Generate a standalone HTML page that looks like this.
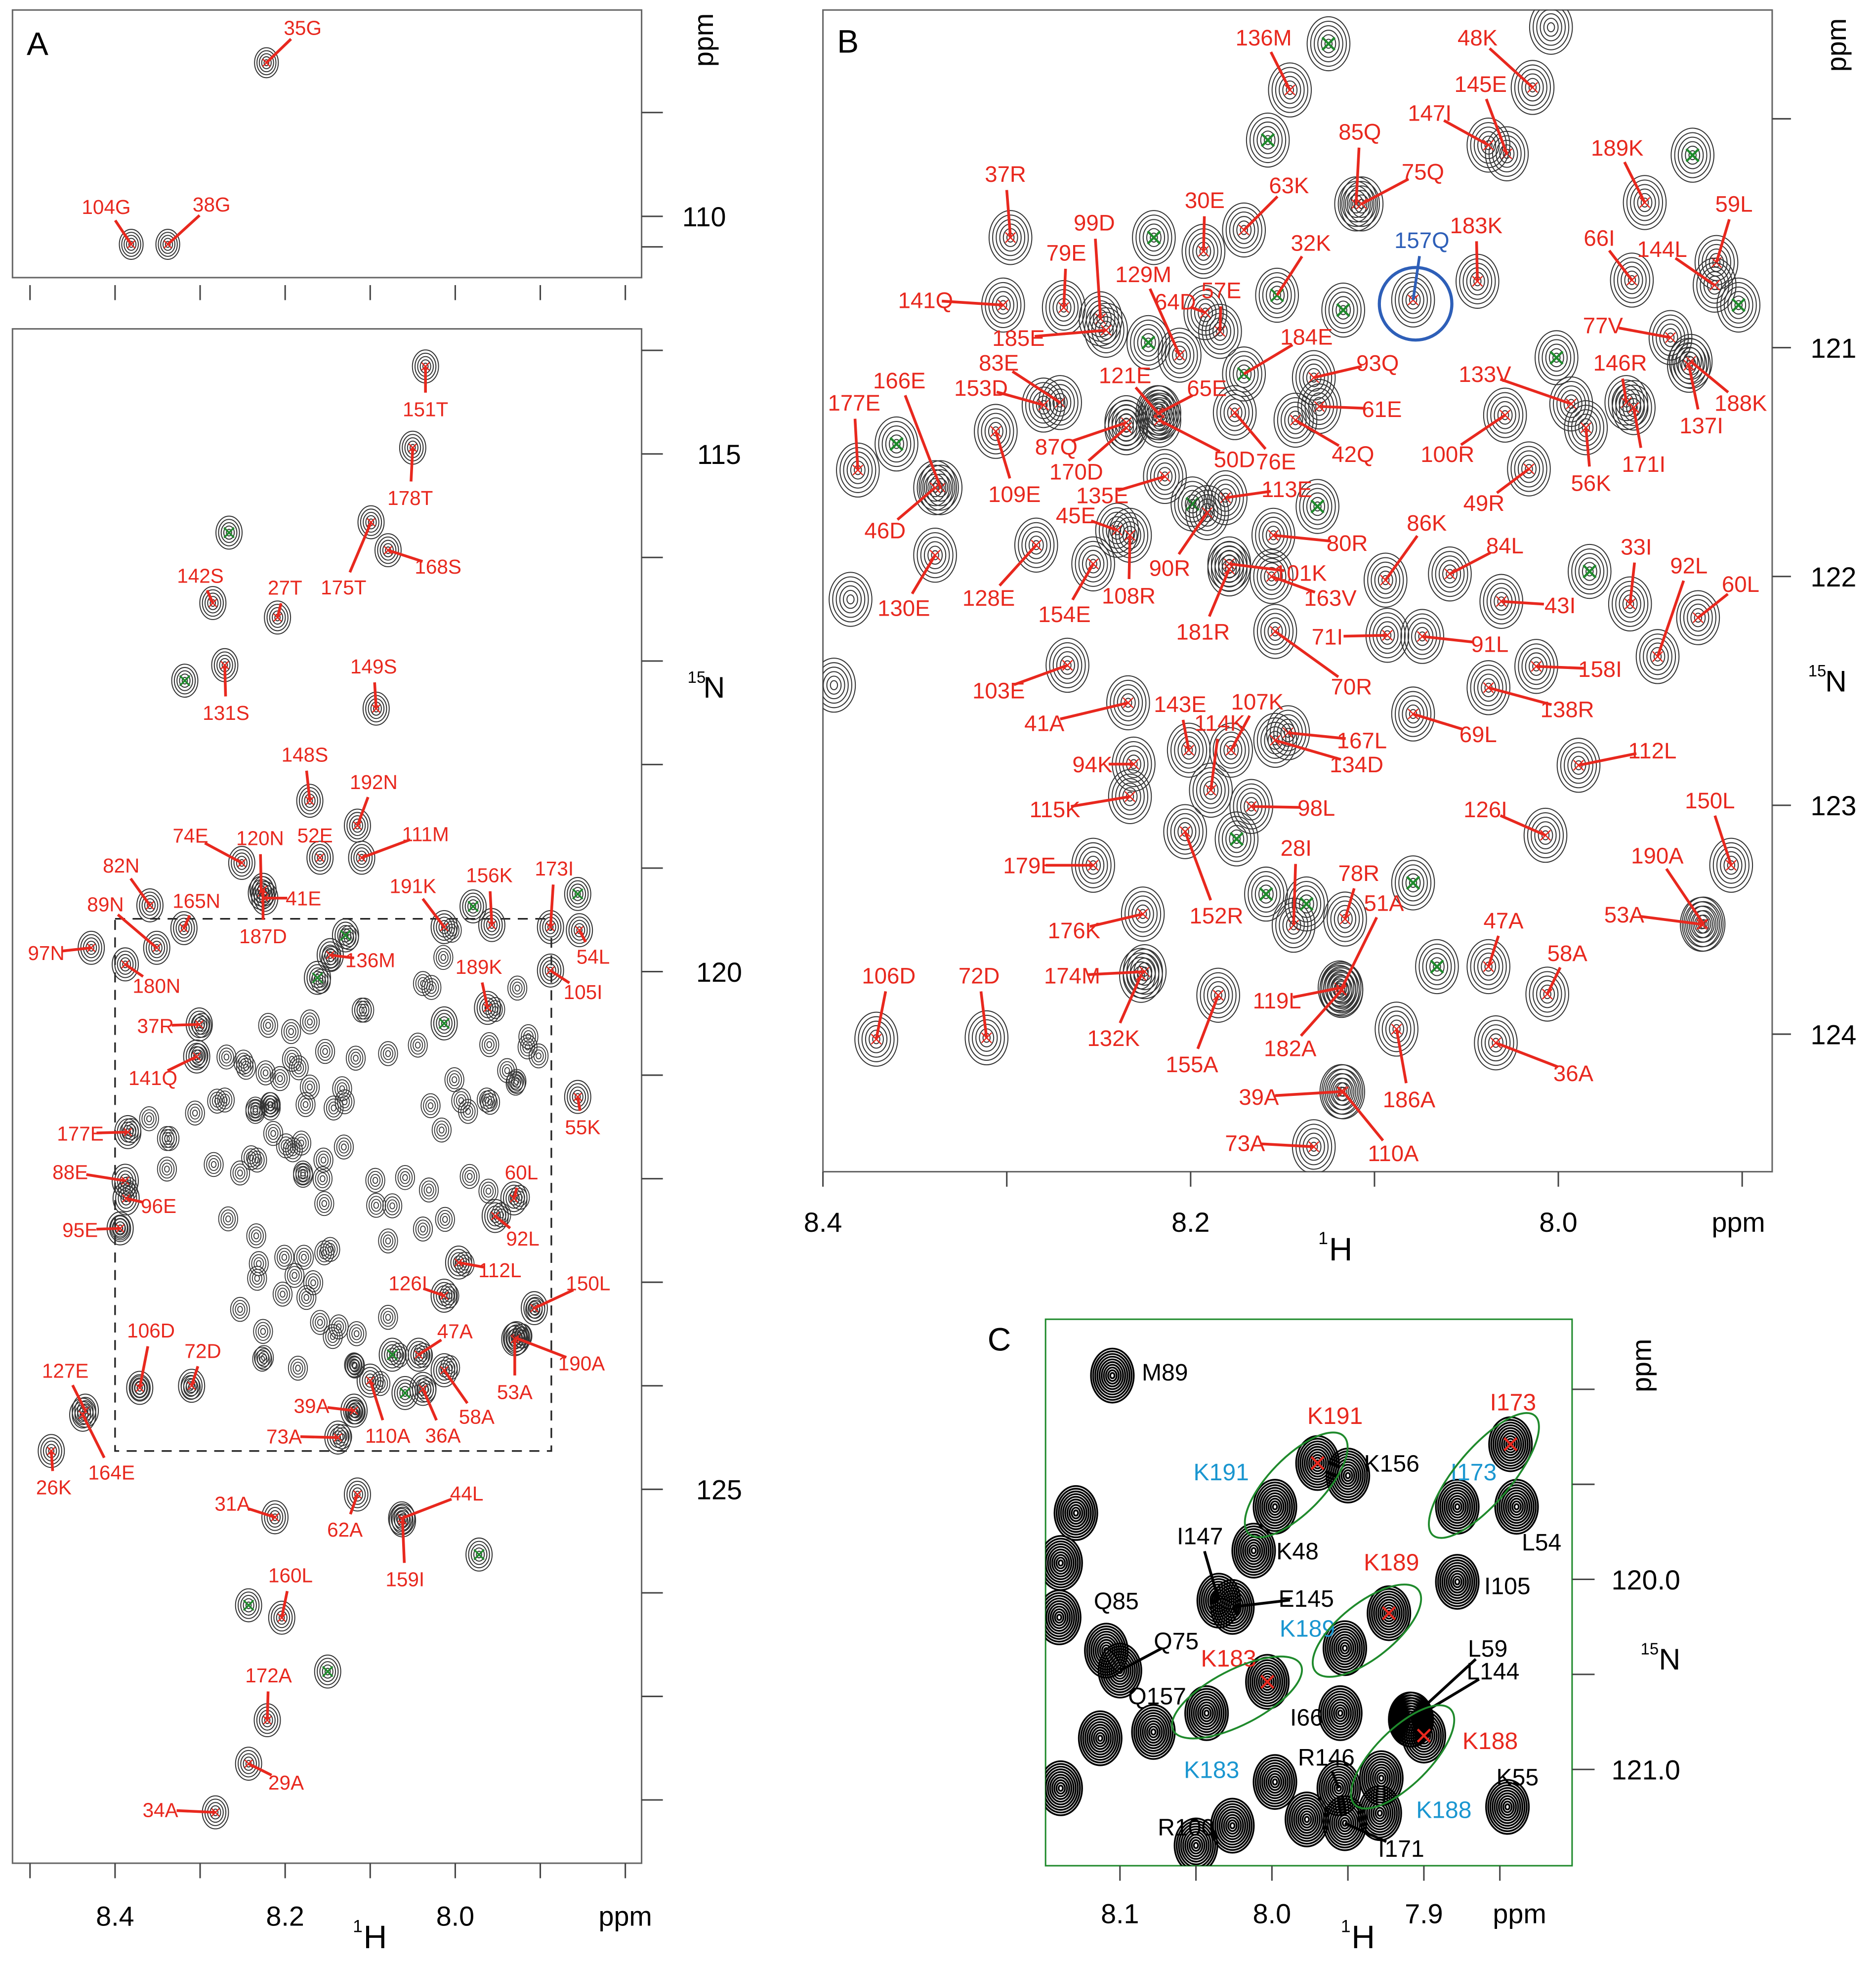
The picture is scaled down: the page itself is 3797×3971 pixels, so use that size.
<!DOCTYPE html>
<html><head><meta charset="utf-8">
<style>
html,body{margin:0;padding:0;background:#fff;}
svg{display:block;font-family:"Liberation Sans",Arial,sans-serif;}
</style></head>
<body>
<svg id="fig" xmlns="http://www.w3.org/2000/svg" width="3797" height="3971" viewBox="0 0 1500 1569" preserveAspectRatio="none">
<defs>
<clipPath id="clipAt"><rect x="10" y="8" width="503" height="214"/></clipPath>
<clipPath id="clipA"><rect x="10" y="263" width="503" height="1227"/></clipPath>
<clipPath id="clipB"><rect x="658" y="8" width="759" height="929"/></clipPath>
<clipPath id="clipC"><rect x="836" y="1055" width="421" height="437"/></clipPath>
</defs>
<rect x="0" y="0" width="1500" height="1569" fill="#fff"/>
<g id="axes"></g>
<g id="gAt" clip-path="url(#clipAt)"></g>
<g id="gA" clip-path="url(#clipA)"></g>
<g id="gB" clip-path="url(#clipB)"></g>
<g id="gC" clip-path="url(#clipC)"></g>
<g id="labels"></g>
</svg>
<script>
// ---------- DATA ----------
const atNames=['35G','104G','38G'];
const atH=[8.222,8.381,8.338];
const atN=[108.52,110.27,110.27];
const atOff=[[29,-28],[-20,-30],[35,-32]];
const aNames=['151T','178T','168S','175T','','142S','27T','','131S','149S','148S','192N','111M','52E','120N','74E','41E','187D','82N','89N','165N','97N','180N','191K','','156K','173I','','54L','105I','136M','','','189K','','37R','141Q','177E','55K','88E','96E','95E','60L','92L','112L','126I','150L','190A','53A','47A','','58A','36A','','110A','39A','73A','106D','72D','127E','164E','26K','31A','62A','44L','159I','','160L','','172A','','29A','34A'];
const aH=[8.035,8.05,8.079,8.099,8.266,8.285,8.209,8.318,8.271,8.093,8.171,8.115,8.11,8.159,8.228,8.251,8.224,8.226,8.359,8.351,8.319,8.428,8.388,8.013,7.979,7.957,7.888,7.856,7.854,7.888,8.147,8.129,8.162,7.962,8.013,8.301,8.304,8.385,7.856,8.388,8.387,8.394,7.931,7.953,7.996,8.013,7.907,7.928,7.93,8.043,8.074,8.013,8.038,8.059,8.10,8.119,8.138,8.371,8.31,8.435,8.438,8.475,8.212,8.115,8.063,8.062,7.972,8.204,8.243,8.221,8.15,8.243,8.282];
const aN=[114.155,114.94,115.93,115.66,115.76,116.44,116.58,117.19,117.04,117.46,118.35,118.59,118.90,118.90,119.24,118.95,119.29,119.21,119.36,119.77,119.58,119.77,119.93,119.57,119.37,119.55,119.57,119.25,119.60,119.99,119.84,119.65,120.06,120.35,120.50,120.51,120.82,121.55,121.21,122.02,122.19,122.48,122.19,122.36,122.81,123.13,123.25,123.54,123.55,123.70,123.70,123.85,124.03,124.07,123.95,124.24,124.50,124.02,124.00,124.24,124.28,124.63,125.27,125.05,125.28,125.30,125.63,126.24,126.12,127.23,126.76,127.65,128.12];
const aOff=[[0,34],[-2,40],[40,13],[-22,52],[0,0],[-10,-22],[6,-24],[0,0],[1,38],[-2,-34],[-4,-37],[13,-35],[51,-19],[-4,-18],[-1,-44],[-41,-22],[31,0],[0,37],[-23,-32],[-41,-35],[10,-22],[-36,4],[25,17],[-25,-33],[0,0],[-2,-40],[3,-47],[0,0],[11,21],[26,17],[32,4],[0,0],[0,0],[-7,-33],[0,0],[-35,1],[-35,17],[-38,1],[4,24],[-44,-7],[26,6],[-32,1],[6,-21],[22,18],[33,6],[-29,-10],[43,-20],[52,20],[0,42],[29,-19],[0,0],[26,37],[16,37],[0,0],[14,44],[-34,-4],[-43,-1],[9,-46],[9,-28],[-16,-32],[23,46],[2,29],[-34,-11],[-10,28],[52,-20],[2,47],[0,0],[7,-34],[0,0],[1,-36],[0,0],[30,15],[-44,-2]];
const bNames=['136M','48K','145E','147I','','','85Q','75Q','189K','','37R','63K','30E','157Q','183K','66I','59L','144L','','99D','79E','32K','','129M','57E','64D','141Q','','185E','184E','','77V','83E','93Q','146R','','188K','153D','121E','65E','133V','137I','166E','177E','61E','87Q','170D','50D','76E','42Q','109E','100R','56K','171I','','46D','49R','135E','113E','45E','','','80R','90R','86K','84L','33I','92L','60L','','128E','130E','108R','154E','101K','163V','43I','181R','71I','91L','158I','103E','70R','138R','41A','143E','107K','114K','167L','134D','69L','112L','94K','115K','98L','126I','150L','179E','152R','28I','78R','190A','53A','','','','','176K','51A','47A','58A','','106D','72D','174M','119L','132K','155A','182A','186A','36A','39A','110A','73A','-','-','-'];
const bH=[8.146,8.014,8.028,8.038,8.125,8.158,8.110,8.107,7.953,7.927,8.298,8.171,8.193,8.079,8.044,7.960,7.914,7.915,7.902,8.249,8.269,8.153,8.220,8.206,8.184,8.192,8.302,8.117,8.246,8.171,8.223,7.939,8.271,8.133,7.963,8.001,7.928,8.280,8.218,8.217,7.993,7.929,8.336,8.381,8.130,8.235,8.235,8.217,8.176,8.143,8.306,8.029,7.985,7.959,8.360,8.339,8.016,8.214,8.181,8.240,8.199,8.131,8.155,8.191,8.094,8.059,7.961,7.946,7.924,7.983,8.284,8.339,8.233,8.253,8.179,8.156,8.031,8.179,8.093,8.074,8.012,8.267,8.154,8.038,8.234,8.201,8.178,8.189,8.147,8.154,8.079,7.989,8.231,8.233,8.167,8.007,7.906,8.253,8.203,8.144,8.116,7.921,7.922,8.175,8.159,8.137,8.079,8.226,8.118,8.038,8.006,8.066,8.371,8.311,8.225,8.119,8.227,8.185,8.118,8.088,8.034,8.118,8.117,8.133,8.385,8.394,8.004];
const bN=[119.874,119.863,120.153,120.115,119.672,120.093,120.372,120.372,120.366,120.159,120.519,120.486,120.579,120.792,120.71,120.705,120.628,120.727,120.814,120.874,120.825,120.771,120.519,121.033,120.929,120.847,120.814,120.836,120.924,121.115,120.978,120.956,121.24,121.131,121.24,121.044,121.06,121.251,121.284,121.285,121.246,121.077,121.612,121.535,121.257,121.328,121.35,121.317,121.284,121.317,121.366,121.295,121.35,121.262,121.421,121.612,121.53,121.563,121.656,121.798,121.683,121.694,121.82,121.721,122.016,121.989,122.12,122.35,122.18,121.978,121.863,121.907,121.82,121.945,121.945,122.0,122.109,121.967,122.257,122.262,122.393,122.388,122.24,122.486,122.552,122.759,122.759,122.934,122.683,122.716,122.601,122.825,122.82,122.962,123.005,123.131,123.262,123.262,123.115,123.524,123.497,123.519,123.52,123.147,123.388,123.431,123.339,123.475,123.803,123.705,123.825,123.705,124.022,124.016,123.727,123.798,123.743,123.83,123.809,123.978,124.038,124.251,124.252,124.492,122.10,122.475,119.60];
const bOff=[[-21,-42],[-44,-40],[-21,-56],[-47,-26],[0,0],[0,0],[3,-58],[49,-26],[-22,-44],[0,0],[-4,-51],[36,-36],[1,-41],[7,-48],[-1,-45],[-26,-34],[14,-47],[-42,-29],[0,0],[-5,-77],[2,-44],[27,-42],[0,0],[-29,-65],[1,-33],[-24,-9],[-62,-4],[0,0],[-70,6],[50,-30],[0,0],[-54,-10],[-49,-32],[51,-12],[-5,-32],[0,0],[40,33],[-50,-14],[-26,-30],[38,-20],[-69,-24],[10,48],[-33,-86],[-3,-54],[50,2],[-56,19],[-40,35],[60,31],[33,39],[46,27],[15,50],[-46,31],[4,44],[8,45],[0,0],[-40,34],[-36,27],[-50,15],[49,-7],[-33,-12],[0,0],[0,0],[59,6],[-30,44],[33,-46],[44,-23],[5,-46],[25,-73],[34,-27],[0,0],[-38,42],[-25,42],[-1,48],[-23,40],[57,7],[47,17],[47,3],[-21,50],[-48,1],[54,6],[51,2],[-55,20],[61,44],[63,17],[-67,16],[-7,-37],[21,-39],[7,-54],[59,6],[65,19],[52,16],[59,-12],[-33,0],[-60,10],[52,1],[-48,-21],[-17,-52],[-51,0],[25,67],[2,-62],[11,-37],[-37,-55],[-62,-8],[0,0],[0,0],[0,0],[0,0],[-55,13],[34,-69],[12,-37],[16,-33],[0,0],[10,-51],[-6,-50],[-58,3],[-50,10],[-22,50],[-21,55],[-41,46],[10,56],[62,24],[-66,4],[40,49],[-55,-3],[0,0],[0,0],[0,0]];
const bGreenAlso=['32K','184E'];
const cNames=['M89','K191','K156','K191','I173','I173','L54','I147','K48','K189','K189','I105','E145','Q85','Q75','K183','K183','Q157','I66','L59','L144','K188','K188','R146','K55','R100','I171','','','','','','','','',''];
const cH=[8.105,7.970,7.950,7.998,7.843,7.878,7.839,8.035,8.012,7.923,7.952,7.878,8.026,8.109,8.100,8.003,8.043,8.078,7.955,7.909,7.908,7.900,7.928,7.956,7.845,8.026,7.952,8.129,8.139,8.139,8.113,7.998,7.977,7.929,8.050,8.140];
const cN=[118.928,119.388,119.454,119.618,119.289,119.618,119.618,120.112,119.849,120.178,120.362,120.013,120.145,120.375,120.48,120.539,120.704,120.803,120.704,120.737,120.738,120.822,121.046,121.099,121.197,121.296,121.283,119.651,119.914,121.099,120.836,121.066,121.263,121.23,121.40,120.20];
const cCol=['k','r','k','b','r','b','k','k','k','r','b','k','k','k','k','r','b','k','k','k','k','r','b','k','k','k','k','','','','','','','','',''];
const cOff=[[42,-3],[14,-38],[35,-10],[-43,-28],[2,-34],[13,-28],[20,28],[-15,-52],[35,0],[2,-41],[-30,-16],[40,3],[59,-7],[8,-40],[45,-24],[-31,-19],[4,45],[3,-29],[-27,3],[62,-57],[65,-39],[53,4],[50,25],[-10,-25],[8,-24],[-37,1],[45,20],[0,0],[0,0],[0,0],[0,0],[0,0],[0,0],[0,0],[0,0],[0,0]];
const cPairs=[[1,3],[4,5],[9,10],[15,16],[21,22]];
const aXTicks=[8.5,8.4,8.3,8.2,8.1,8.0,7.9,7.8];
const aXLabels=['8.4','8.2','8.0'];
const aYTicks=[113,114,115,116,117,118,119,120,121,122,123,124,125,126,127,128];
const aYLabels=['115','120','125'];
const atYTicks=[109,110];
const bXTicks=[8.4,8.3,8.2,8.1,8.0,7.9];
const bXLabels=['8.4','8.2','8.0'];
const bYTicks=[120,121,122,123,124];
const bYLabels=['121','122','123','124'];
const cXTicks=[8.1,8.05,8.0,7.95,7.9,7.85];
const cXLabels=['8.1','8.0','7.9'];
const cYTicks=[119.0,119.5,120.0,120.5,121.0];
const cYLabels=['120.0','121.0'];

const xA=h=>92+(8.4-h)*680, yA=n=>777+(n-120)*82.8, yAt=n=>173+(n-110)*83;
const xB=h=>658+(8.4-h)*1470, yB=n=>278+(n-121)*183;
const xC=h=>1017+(8.0-h)*1215, yC=n=>1263+(n-120)*152;

const NS='http://www.w3.org/2000/svg';
function mk(tag,attrs,parent){const e=document.createElementNS(NS,tag);for(const k in attrs)e.setAttribute(k,attrs[k]);parent.appendChild(e);return e;}
const RED='#e8281e', GREEN='#1f8a2c', BLUEB='#2e5fb8', BLUEC='#1a96d0';

function contour(g,x,y,s,n,sw,col){
  const grp=mk('g',{},g);
  
  
  for(let i=1;i<=n;i++){const r=s*i/n;mk('ellipse',{cx:x,cy:y,rx:r*0.95,ry:r*1.2,fill:'none',stroke:col,'stroke-width':sw},grp);}
  return grp;
}
function cross(g,x,y,sz,col,sw){
  const c=mk('path',{d:`M${x-sz},${y-sz}L${x+sz},${y+sz}M${x-sz},${y+sz}L${x+sz},${y-sz}`,stroke:col,'stroke-width':sw,fill:'none'},g);
  
  
}
function label(g,px,py,off,txt,col,fs,line){
  const lx=px+off[0], ly=py+off[1];
  if(line){const dx=lx-px,dy=ly-py,d=Math.hypot(dx,dy);
    if(d>20){const t=(d-13)/d;const l=mk('line',{x1:px,y1:py,x2:px+dx*t,y2:py+dy*t,stroke:line,'stroke-width':2.2},g);
      
      }}
  const t=mk('text',{x:lx,y:ly+fs*0.36,'font-size':fs,fill:col,'text-anchor':'middle'},g);
  t.textContent=txt;
  
  
}

const gAt=document.getElementById('gAt'),gA=document.getElementById('gA'),gB=document.getElementById('gB'),gC=document.getElementById('gC'),gL=document.getElementById('labels'),ax=document.getElementById('axes');

function frame(x,y,w,h,col,name){const r=mk('rect',{x,y,width:w,height:h,fill:'none',stroke:col,'stroke-width':1.2},ax);}
frame(10,8,503,214,'#666','panel-a-top-frame');
frame(10,263,503,1227,'#666','panel-a-frame');
frame(658,8,759,929,'#666','panel-b-frame');
frame(836,1055,421,437,GREEN,'panel-c-frame');
function txt(x,y,s,fs,anchor,col,name,extra){const t=mk('text',Object.assign({x,y,'font-size':fs,'text-anchor':anchor||'middle',fill:col||'#000'},extra||{}),ax);t.textContent=s;return t;}
aXTicks.forEach(h=>{mk('line',{x1:xA(h),y1:1490,x2:xA(h),y2:1502,stroke:'#444','stroke-width':1.2},ax);mk('line',{x1:xA(h),y1:228,x2:xA(h),y2:240,stroke:'#444','stroke-width':1.2},ax);});
aXLabels.forEach(s=>txt(xA(+s),1540,s,22,'middle','#000','x-tick-label'));
txt(500,1540,'ppm',22,'middle','#000','x-unit-label');
aYTicks.forEach(n=>mk('line',{x1:513,y1:yA(n),x2:530,y2:yA(n),stroke:'#444','stroke-width':1.2},ax));
aYLabels.forEach(s=>txt(575,yA(+s)+8,s,22,'middle','#000','y-tick-label'));
atYTicks.forEach(n=>mk('line',{x1:513,y1:yAt(n),x2:530,y2:yAt(n),stroke:'#444','stroke-width':1.2},ax));
txt(563,181,'110',22,'middle','#000','y-tick-label');
txt(0,0,'ppm',22,'middle','#000','y-unit-label',{transform:'translate(570,32) rotate(-90)'});
txt(571,558,'N',24,'middle','#000','y-axis-title');
txt(557,546,'15',13,'middle','#000','y-axis-title-sup');
txt(300,1558,'H',26,'middle','#000','x-axis-title');txt(286,1545,'1',14,'middle','#000','x-axis-title-sup');
txt(30,44,'A',26,'middle','#000','panel-label-a');
const db=mk('rect',{x:xA(8.4),y:yA(119.49),width:xA(7.887)-xA(8.4),height:yA(124.63)-yA(119.49),fill:'none',stroke:'#222','stroke-width':1.3,'stroke-dasharray':'8,6'},ax);

bXTicks.forEach(h=>mk('line',{x1:xB(h),y1:937,x2:xB(h),y2:949,stroke:'#444','stroke-width':1.2},ax));
bXLabels.forEach(s=>txt(xB(+s),985,s,22,'middle','#000','x-tick-label'));
txt(1390,985,'ppm',22,'middle','#000','x-unit-label');
bYTicks.forEach(n=>mk('line',{x1:1417,y1:yB(n),x2:1432,y2:yB(n),stroke:'#444','stroke-width':1.2},ax));
bYLabels.forEach(s=>txt(1466,yB(+s)+8,s,22,'middle','#000','y-tick-label'));
txt(0,0,'ppm',22,'middle','#000','y-unit-label',{transform:'translate(1476,36) rotate(-90)'});
txt(1468,553,'N',24,'middle','#000','y-axis-title');txt(1453,541,'15',13,'middle','#000','y-axis-title-sup');
txt(1072,1008,'H',26,'middle','#000','x-axis-title');txt(1058,995,'1',14,'middle','#000','x-axis-title-sup');
txt(678,42,'B',26,'middle','#000','panel-label-b');
cXTicks.forEach(h=>mk('line',{x1:xC(h),y1:1492,x2:xC(h),y2:1504,stroke:'#444','stroke-width':1.2},ax));
cXLabels.forEach(s=>txt(xC(+s),1538,s,22,'middle','#000','x-tick-label'));
txt(1215,1538,'ppm',22,'middle','#000','x-unit-label');
cYTicks.forEach(n=>mk('line',{x1:1257,y1:yC(n),x2:1275,y2:yC(n),stroke:'#444','stroke-width':1.2},ax));
cYLabels.forEach(s=>txt(1316,yC(+s)+8,s,22,'middle','#000','y-tick-label'));
txt(0,0,'ppm',22,'middle','#000','y-unit-label',{transform:'translate(1320,1092) rotate(-90)'});
txt(1335,1335,'N',24,'middle','#000','y-axis-title');txt(1319,1323,'15',13,'middle','#000','y-axis-title-sup');
txt(1090,1558,'H',26,'middle','#000','x-axis-title');txt(1076,1545,'1',14,'middle','#000','x-axis-title-sup');
txt(799,1080,'C',26,'middle','#000','panel-label-c');

atNames.forEach((nm,i)=>{const x=xA(atH[i]),y=yAt(atN[i]);contour(gAt,x,y,10,5,0.8,'#333');cross(gAt,x,y,3,RED,1);label(gL,x,y,atOff[i],nm,RED,16,RED);});
bNames.forEach((nm,i)=>{contour(gA,xA(bH[i]),yA(bN[i]),8,4,0.7,'#333');});
aNames.forEach((nm,i)=>{const x=xA(aH[i]),y=yA(aN[i]);contour(gA,x,y,11,5,0.8,'#333');
  if(nm===''){cross(gA,x,y,4,GREEN,1.4);}else{cross(gA,x,y,3,RED,1);label(gL,x,y,aOff[i],nm,RED,16,RED);}});
bNames.forEach((nm,i)=>{const x=xB(bH[i]),y=yB(bN[i]);contour(gB,x,y,18,6,0.8,'#333');
  if(nm===''){cross(gB,x,y,5,GREEN,1.8);}
  else if(nm!=='-'){cross(gB,x,y,4,RED,1);
    if(bGreenAlso.includes(nm))cross(gB,x,y,5,GREEN,1.6);
    const col=nm==='157Q'?BLUEB:RED;label(gL,x,y,bOff[i],nm,col,18,col);
    if(nm==='157Q'){const c=mk('circle',{cx:x+2,cy:y+3,r:29,fill:'none',stroke:BLUEB,'stroke-width':2.5},gL);}}});
cNames.forEach((nm,i)=>{const x=xC(cH[i]),y=yC(cN[i]);contour(gC,x,y,18,10,1.4,'#000');
  const lc=cCol[i]==='r'?RED:cCol[i]==='b'?BLUEC:'#000';
  if(cCol[i]==='r')cross(gC,x,y,5,RED,1.8);
  if(nm!=='')label(gL,x,y,cOff[i],nm,lc,19,(cCol[i]==='k'&&['I147','E145','Q75','L59','L144','R146','I171'].includes(nm))?'#000':null);});
cPairs.forEach(p=>{const x1=xC(cH[p[0]]),y1=yC(cN[p[0]]),x2=xC(cH[p[1]]),y2=yC(cN[p[1]]);
  const cx=(x1+x2)/2,cy=(y1+y2)/2,ang=Math.atan2(y2-y1,x2-x1)*180/Math.PI,len=Math.hypot(x2-x1,y2-y1);
  const e=mk('ellipse',{cx,cy,rx:len/2+30,ry:22,fill:'none',stroke:GREEN,'stroke-width':1.5,transform:`rotate(${ang} ${cx} ${cy})`},gL);
  });
</script>
</body></html>
